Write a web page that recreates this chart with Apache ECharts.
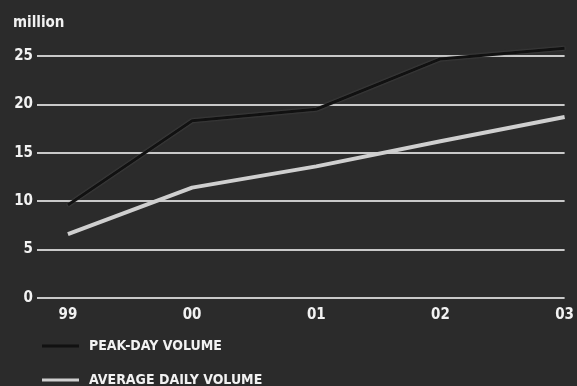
<!DOCTYPE html>
<html>
<head>
<meta charset="utf-8">
<script src="https://cdn.jsdelivr.net/npm/echarts@6/dist/echarts.min.js"></script>
<style>
  html, body { margin: 0; padding: 0; background: #2b2b2b; }
  #chart { width: 577px; height: 386px; }
</style>
</head>
<body>
<div id="chart"></div>
<script>
// 年份与数据
var years = [1999, 2000, 2001, 2002, 2003];
var yearLabels = ["99", "00", "01", "02", "03"];
var peakDay = [9.6, 18.3, 19.5, 24.7, 25.8];
var averageDaily = [6.6, 11.4, 13.6, 16.2, 18.7];
var yTicks = [0, 5, 10, 15, 20, 25];
var seriesNames = ["PEAK-DAY VOLUME", "AVERAGE DAILY VOLUME"];

var font = "'DejaVu Sans Condensed', 'Liberation Sans', sans-serif";
var chart = echarts.init(document.getElementById("chart"));

function pairs(vals) {
  return years.map(function (y, i) { return [y, vals[i]]; });
}

// 图例：每项单独一行
function legendItem(name, top) {
  return {
    left: 37,
    top: top,
    icon: "rect",
    itemWidth: 37,
    itemHeight: 3,
    textStyle: {
      color: "#f2f2f2", fontFamily: font, fontWeight: "bold", fontSize: 14,
      padding: [0, 0, 0, 5]
    },
    data: [name]
  };
}

chart.setOption({
  backgroundColor: "#2b2b2b",
  animation: false,
  title: {
    text: "million",
    left: 8,
    top: 11,
    textStyle: { color: "#f2f2f2", fontFamily: font, fontWeight: "bold", fontSize: 15 }
  },
  legend: [legendItem(seriesNames[0], 334), legendItem(seriesNames[1], 368)],
  grid: { left: 37, right: 11, top: 56, bottom: 88 },
  xAxis: {
    type: "value",
    min: 1998.751,
    max: 2003,
    axisLine: { show: false },
    axisTick: { show: false },
    splitLine: { show: false },
    axisLabel: {
      customValues: years,
      margin: 10,
      color: "#f2f2f2",
      fontFamily: font,
      fontWeight: "bold",
      fontSize: 15,
      formatter: function (v) {
        var i = years.indexOf(Math.round(v));
        return i >= 0 ? yearLabels[i] : "";
      }
    }
  },
  yAxis: {
    type: "value",
    min: yTicks[0],
    max: yTicks[yTicks.length - 1],
    interval: 5,
    axisLine: { show: false },
    axisTick: { show: false },
    axisLabel: {
      margin: 4,
      color: "#f2f2f2",
      fontFamily: font,
      fontWeight: "bold",
      fontSize: 15
    },
    splitLine: { lineStyle: { color: "#c9c9c9", width: 2 } }
  },
  series: [
    {
      name: seriesNames[0],
      type: "line",
      data: pairs(peakDay),
      symbol: "none",
      clip: false,
      itemStyle: { color: "#111111" },
      lineStyle: { color: "#111111", width: 3, shadowColor: "rgba(120,120,120,0.6)", shadowBlur: 2 }
    },
    {
      name: seriesNames[1],
      type: "line",
      data: pairs(averageDaily),
      symbol: "none",
      clip: false,
      itemStyle: { color: "#cfcfcf" },
      lineStyle: { color: "#cfcfcf", width: 4 }
    }
  ]
});
</script>
</body>
</html>
